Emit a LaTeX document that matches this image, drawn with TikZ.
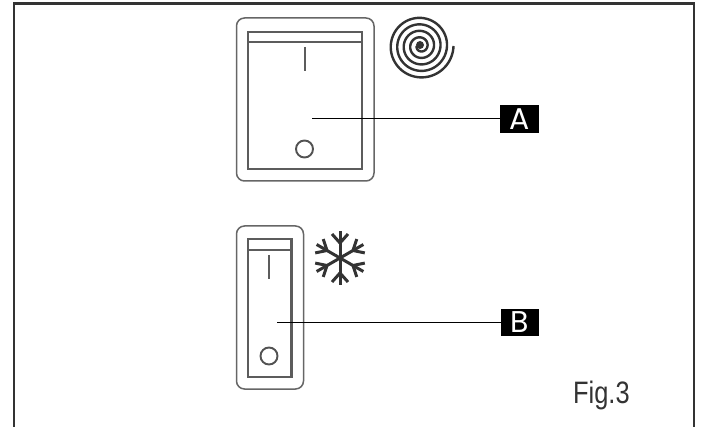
\documentclass[tikz,border=0pt]{standalone}
\usepackage{fontspec}
\setmainfont{Liberation Sans}
\newfontfamily\tagfont{Poppins}
\definecolor{ink}{gray}{0.2}
\tikzset{
  x=1pt,y=-1pt,
  outerbox/.style={draw=ink!75,line width=1.5pt,rounded corners=8pt,minimum width=#1,minimum height=163pt,inner sep=0pt,outer sep=0pt,anchor=north west},
  innerbox/.style={draw=ink!80,line width=2.1pt,inner sep=0pt,outer sep=0pt,anchor=north west},
  swmark/.style={draw=ink!80,line width=2.4pt},
  ring/.style={circle,draw=ink!85,line width=1.9pt,minimum size=17pt,inner sep=0pt},
  leader/.style={draw=black,line width=0.95pt},
  tagbox/.style={fill=black,text=white,minimum width=38.5pt,minimum height=27.5pt,inner sep=0pt,outer sep=0pt,font=\tagfont\fontsize{30}{30}\selectfont},
  flake/.style={draw=ink,line width=3pt},
  coil/.style={draw=ink,line width=2.4pt}
}
\begin{document}
\begin{tikzpicture}
\useasboundingbox (0,0) rectangle (701,427);
\draw[draw=ink,line width=2.8pt,line join=miter] (14,427) -- (14,3.5) -- (694,3.5) -- (694,427);

% Switch A
\node[outerbox=137.5pt] (outerA) at (236.5,18) {};
\node[innerbox,minimum width=114pt,minimum height=137pt] (innerA) at (248,32) {};
\draw[swmark] (248,42) -- (362,42);
\draw[swmark] (304.8,47) -- (304.8,71);
\node[ring] (ringA) at (304.5,149) {};
\coordinate (endA) at (312,118.5);
\node[tagbox] (tagA) at (519.5,119) {A};
\draw[leader] (endA) -- (endA -| tagA.west);

% Switch B
\node[outerbox=67pt] (outerB) at (236.5,226) {};
\node[innerbox,minimum width=43.5pt,minimum height=138pt] (innerB) at (248,239) {};
\draw[swmark] (248,250) -- (291.5,250);
\draw[swmark] (269,255) -- (269,279);
\node[ring] (ringB) at (269,356) {};
\coordinate (endB) at (277,322.5);
\node[tagbox] (tagB) at (520,322.5) {B};
\draw[leader] (endB) -- (endB -| tagB.west);

% Coil symbol
\draw[coil] plot[domain=-1620:0,samples=340,smooth] ({420.5+(33+6.5*\x/360)*cos(\x)},{46-(33+6.5*\x/360)*sin(\x)});
\fill[ink] (420,45) circle (4);

% Snowflake symbol
\foreach \a in {30,90,150,210,270,330}{
  \begin{scope}[shift={(340,258)},rotate=\a]
    \draw[flake] (0,0) -- (27,0);
    \draw[flake] (15,0) -- (24,8);
    \draw[flake] (15,0) -- (24,-8);
  \end{scope}
}

\node[anchor=base west,inner sep=0pt,text=ink,font=\fontsize{31}{31}\selectfont,xscale=0.82] (figlabel) at (573,403) {Fig.3};
\end{tikzpicture}
\end{document}
